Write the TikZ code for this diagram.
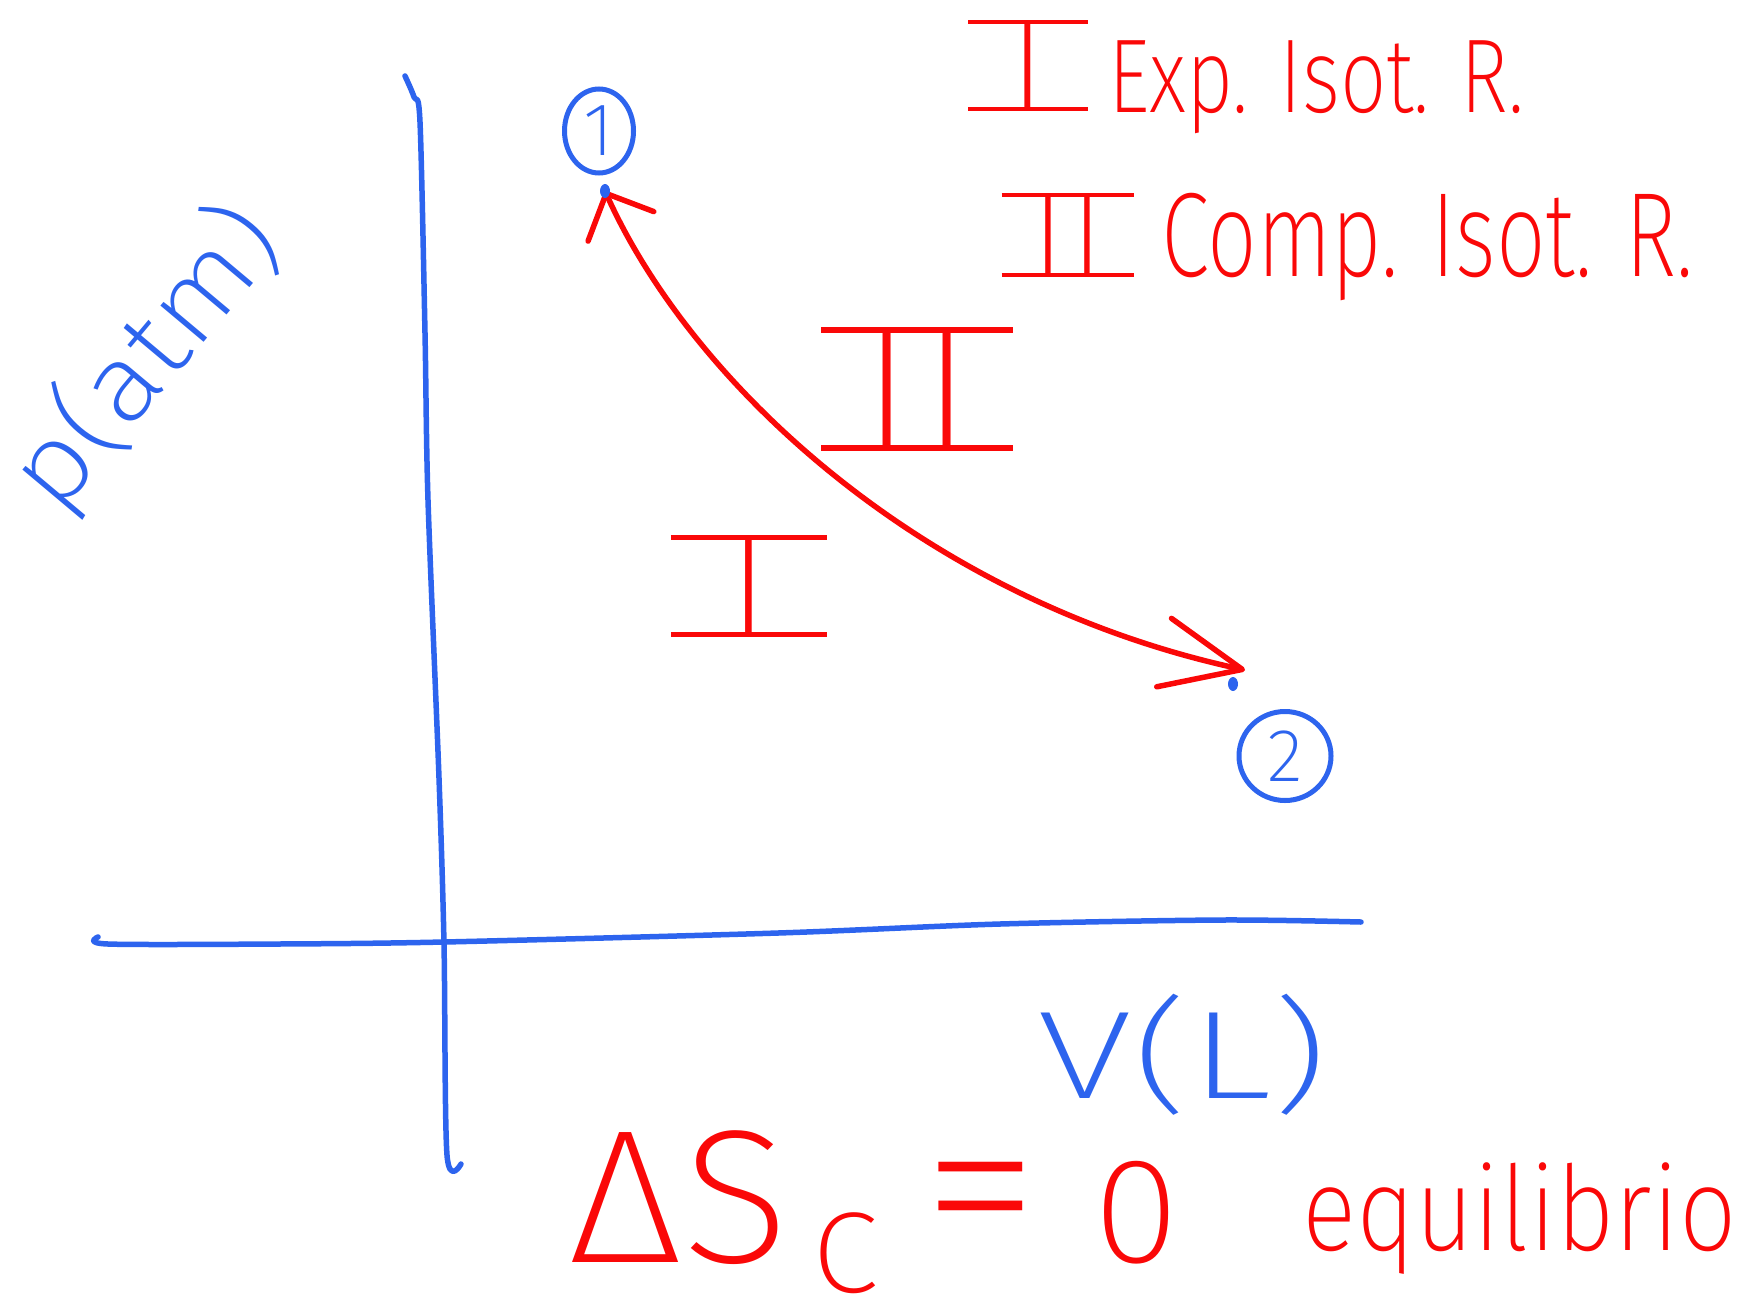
\documentclass[tikz,border=0pt]{standalone}
\usepackage{fontspec}
\setmainfont{Fira Sans}[UprightFont={* ExtraLight}]
\usetikzlibrary{arrows.meta,backgrounds,shapes.geometric}
\definecolor{inkblue}{RGB}{45,100,238}
\definecolor{inkred}{RGB}{250,8,8}
\newcommand{\fsz}[1]{\fontsize{#1}{#1}\selectfont}
% roman numeral with hand-drawn style top and bottom bars
\newcommand{\rnum}[2]{\vbox{\hrule height 0.032em\kern-0.01em\hbox{\hspace{#1}#2\hspace{#1}}\kern-0.01em\hrule height 0.032em}}
\tikzset{
  bluestroke/.style={draw=inkblue,line width=5.5pt,line cap=round,line join=round},
  redstroke/.style={draw=inkred,line width=5.5pt,line cap=round,line join=round},
  bluetext/.style={text=inkblue,inner sep=0pt},
  redtext/.style={text=inkred,inner sep=0pt},
  statecircle/.style={ellipse,draw=inkblue,line width=5pt,text=inkblue,inner sep=0pt},
  statedot/.style={ellipse,fill=inkblue,inner sep=0pt,minimum width=10pt,minimum height=14pt},
}
\begin{document}
\begin{tikzpicture}[x=1pt,y=-1pt]
\useasboundingbox (0,0) rectangle (1742,1304);
% axes
\draw[bluestroke] plot[smooth] coordinates {(405,76) (414,97) (420,122) (425,333) (428,500) (439,778) (444,944) (447,1155) (461,1164)};
\draw[bluestroke] plot[smooth] coordinates {(98,937) (108,944) (278,944) (444,942) (778,933) (1000,924) (1222,920) (1361,922)};
% axis labels
\node[bluetext,rotate=50,anchor=center,xscale=1.12,transform shape] (ylab) at (146,358) {\fsz{108}p(atm)};
\node[bluetext,anchor=base west,xscale=1.4,transform shape] (xlab) at (1037,1098) {\fsz{125}V(L)};
% states
\node[statecircle,minimum width=69pt,minimum height=84pt] (s1) at (599,131) {\fsz{75}1};
\node[statecircle,minimum width=92pt,minimum height=89pt] (s2) at (1285,756) {\fsz{75}2};
\node[statedot] (dot1) at (605,191) {};
\node[statedot] (dot2) at (1233,684) {};
% process curve
\begin{scope}[on background layer]
\draw[redstroke,{Straight Barb[length=36pt,width=72pt,round]}-{Straight Barb[length=80pt,width=70pt,round]}]
  (dot1.center) .. controls (690,380) and (920,600) .. ([xshift=12pt,yshift=14pt]dot2.center);
\end{scope}
% process labels
\node[redtext] (lII) at (917,389) {\fsz{170}\rnum{0.25em}{I\hspace{0.08em}I}};
\node[redtext] (lI) at (749,586) {\fsz{140}\rnum{0.42em}{I}};
% legend
\node[redtext] (kI) at (1028,65) {\fsz{125}\rnum{0.34em}{I}};
\node[redtext,anchor=base west,xscale=0.78,transform shape] (tI) at (1108,112) {\fsz{105}Exp. Isot. R.};
\node[redtext] (kII) at (1068,235) {\fsz{115}\rnum{0.27em}{I\hspace{0.06em}I}};
\node[redtext,anchor=base west,xscale=0.73,transform shape] (tII) at (1161,276) {\fsz{120}Comp. Isot. R.};
% entropy statement
\node[redtext,anchor=base west,text depth=0pt,xscale=1.05,transform shape] (eq) at (568,1262)
  {\fsz{190}ΔS\hspace{22pt}\raisebox{-30pt}[\height][0pt]{\fsz{115}C}\hspace{41pt}{\fsz{230}=}\hspace{51pt}{\fsz{150}0}};
\node[redtext,anchor=base west,xscale=0.86,transform shape] (eqw) at (1302,1250) {\fsz{118}equilibrio};
\end{tikzpicture}
\end{document}
